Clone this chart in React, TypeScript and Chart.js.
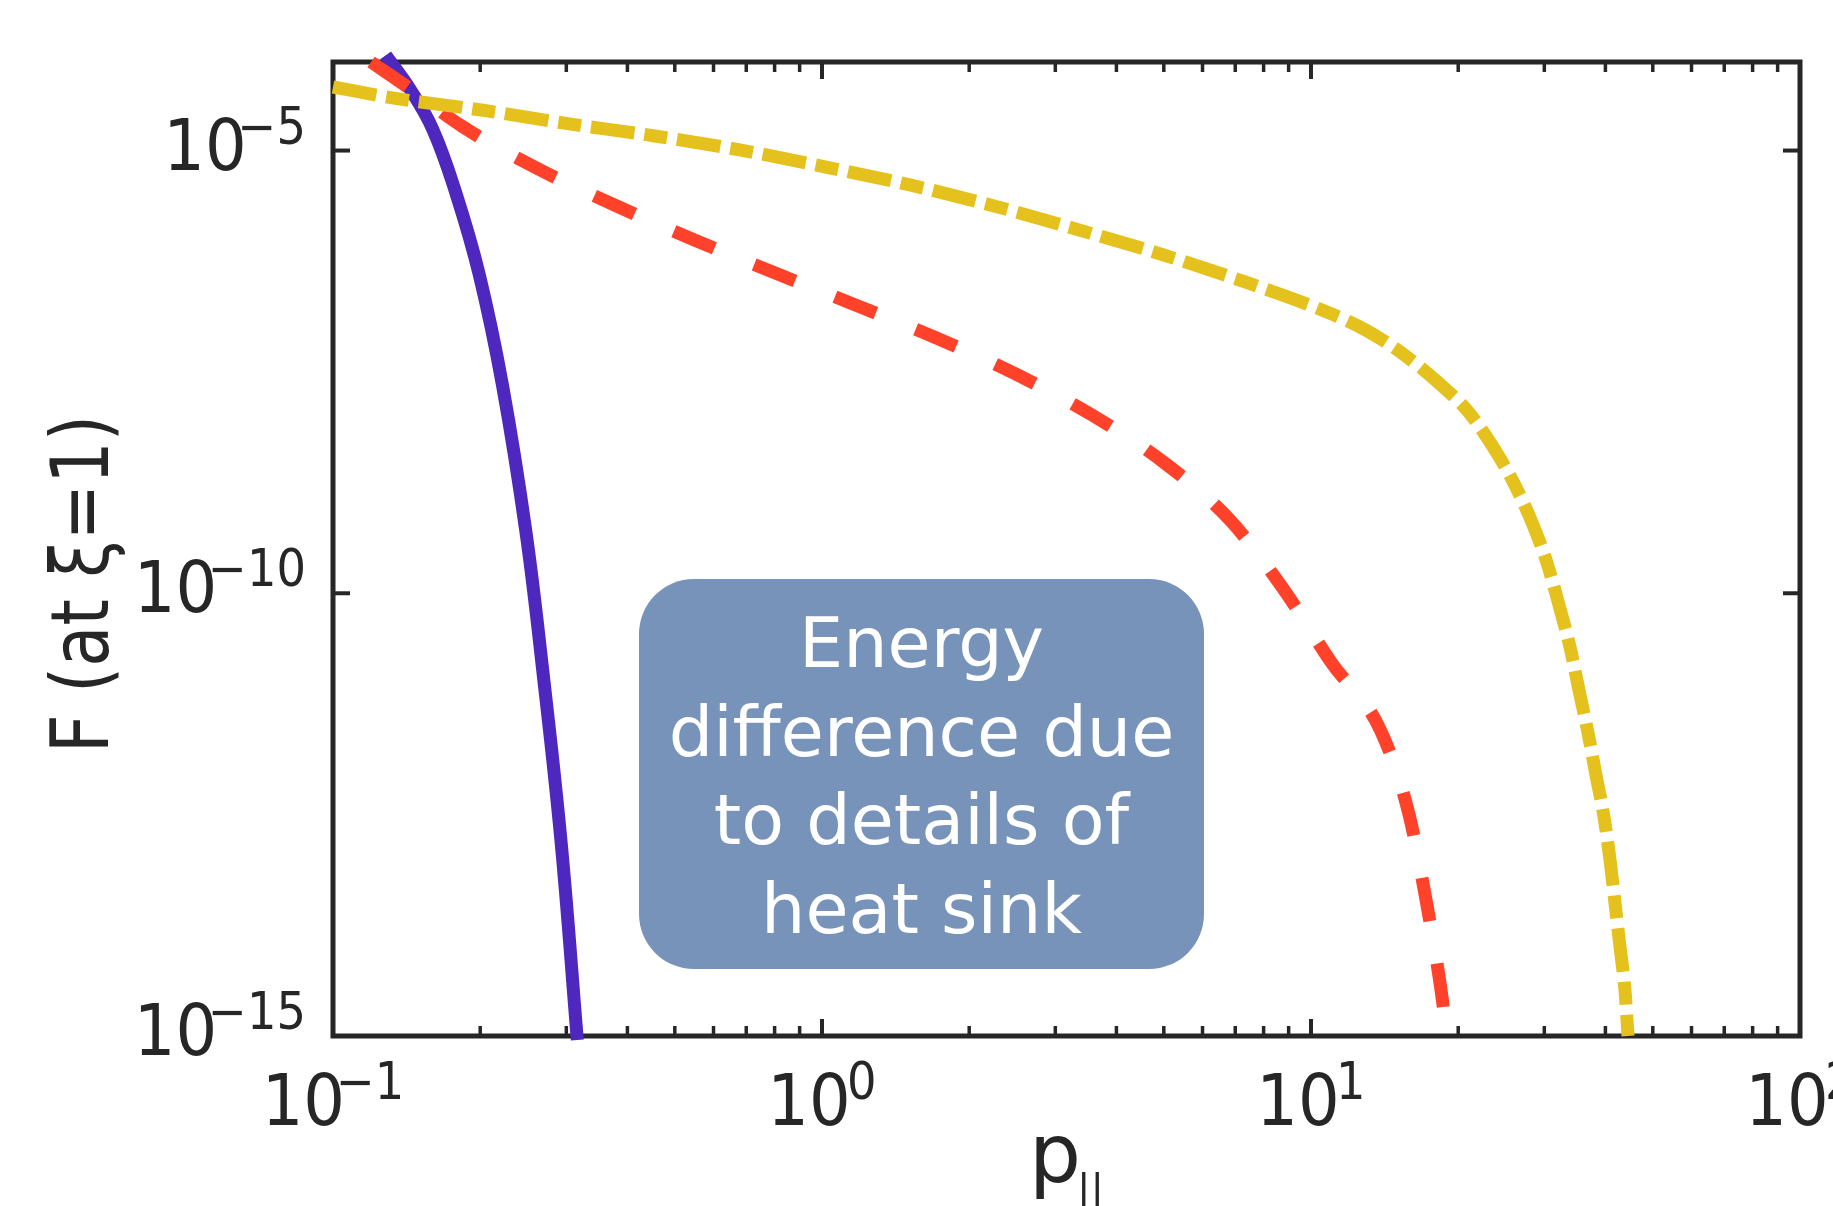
import React, { useEffect, useRef } from "react";
import { Chart, registerables } from "chart.js";

Chart.register(...registerables);

// Momentum p_|| (x) and distribution value F at ξ=1 (y) for three heat-sink models
const purpleP = [0.1282, 0.1432, 0.1598, 0.1784, 0.1992, 0.2223, 0.2481, 0.2696, 0.2927, 0.316];
const purpleF = [1.19e-4, 5.09e-5, 1.757e-5, 3.3e-6, 3.94e-7, 2.19e-8, 4.9e-10, 1.1e-11, 1.56e-13, 9e-16];

const redP = [0.1196, 0.1423, 0.1836, 0.2613, 0.3773, 0.55, 0.805, 1.174, 1.719, 2.493, 3.566, 5.029, 6.83, 8.76, 10.99, 13.9, 15.86, 17.19, 18.36, 18.97];
const redF = [1e-4, 5.18e-5, 1.88e-5, 6.3e-6, 2.41e-6, 9.7e-7, 4.11e-7, 1.79e-7, 7.6e-8, 2.98e-8, 1.03e-8, 2.94e-9, 6.7e-10, 1.14e-10, 1.67e-11, 2.77e-12, 3.2e-13, 3.43e-14, 3.96e-15, 1e-15];

const yellowP = [0.1, 0.1352, 0.2027, 0.2953, 0.4554, 0.683, 1.019, 1.521, 2.258, 3.37, 4.96, 7.33, 10.78, 12.96, 15.35, 18.36, 20.84, 23.45, 26.0, 28.3, 30.39, 32.16, 33.86, 35.32, 36.86, 38.27, 39.74, 40.88, 41.85, 42.85, 43.86, 44.49];
const yellowF = [5.22e-5, 3.86e-5, 2.85e-5, 2.05e-5, 1.46e-5, 1.01e-5, 6.5e-6, 4.06e-6, 2.35e-6, 1.26e-6, 6.7e-7, 3.28e-7, 1.5e-7, 9.35e-8, 5.14e-8, 2.3e-8, 1.17e-8, 4.7e-9, 1.75e-9, 6.35e-10, 2.19e-10, 7.3e-11, 2.47e-11, 8.05e-12, 2.64e-12, 8.8e-13, 2.97e-13, 9.7e-14, 3.17e-14, 1.01e-14, 3.3e-15, 1e-15];

// Axis ranges and decade tick exponents
const xRange = [0.1, 100];
const yRange = [1e-15, 1e-4];
const xTickExponents = [-1, 0, 1, 2];
const yTickExponents = [-5, -10, -15];

const xTitle = "p";
const xTitleSub = "||";
const yTitle = "F (at ξ=1)";
const noteLines = ["Energy", "difference due", "to details of", "heat sink"];

const INK = "#262626";
const FONT = '"DejaVu Sans", "Noto Sans", sans-serif';

const toPoints = (xs: number[], ys: number[]) => xs.map((x, i) => ({ x, y: ys[i] }));

function drawPower(
  ctx: CanvasRenderingContext2D,
  exp: number,
  anchorX: number,
  baseY: number,
  align: "right" | "center"
) {
  const sx = 0.91;
  const base = "10";
  const sup = exp < 0 ? "\u2212" + Math.abs(exp) : String(exp);
  ctx.font = `72px ${FONT}`;
  const wb = ctx.measureText(base).width;
  ctx.font = `51px ${FONT}`;
  const ws = ctx.measureText(sup).width;
  const supStart = exp < 0 ? wb - 10 : wb - 4;
  const total = (supStart + ws) * sx;
  const x0 = align === "right" ? anchorX - total : anchorX - total / 2;
  ctx.save();
  ctx.translate(x0, baseY);
  ctx.scale(sx, 1);
  ctx.fillStyle = INK;
  ctx.textAlign = "left";
  ctx.textBaseline = "alphabetic";
  ctx.font = `72px ${FONT}`;
  ctx.fillText(base, 0, 0);
  ctx.font = `51px ${FONT}`;
  ctx.fillText(sup, supStart, -26);
  ctx.restore();
}

const axesPlugin = {
  id: "axesFrame",
  beforeDatasetsDraw(chart: any) {
    const { ctx, chartArea, scales } = chart;
    const { left, right, top, bottom } = chartArea;
    const xs = scales.x;
    const ys = scales.y;
    ctx.save();
    ctx.strokeStyle = INK;
    ctx.lineWidth = 5;
    ctx.lineCap = "butt";
    ctx.strokeRect(left, top, right - left, bottom - top);

    // inward ticks on all four sides
    const tick = (x1: number, y1: number, x2: number, y2: number, w: number) => {
      ctx.lineWidth = w;
      ctx.beginPath();
      ctx.moveTo(x1, y1);
      ctx.lineTo(x2, y2);
      ctx.stroke();
    };
    for (let e = -1; e < 2; e++) {
      for (let m = 2; m <= 9; m++) {
        const px = xs.getPixelForValue(m * Math.pow(10, e));
        tick(px, bottom, px, bottom - 10, 3.5);
        tick(px, top, px, top + 10, 3.5);
      }
    }
    xTickExponents.forEach((e) => {
      const px = xs.getPixelForValue(Math.pow(10, e));
      tick(px, bottom, px, bottom - 17, 4);
      tick(px, top, px, top + 17, 4);
    });
    yTickExponents.forEach((e) => {
      const py = ys.getPixelForValue(Math.pow(10, e));
      tick(left, py, left + 17, py, 4);
      tick(right, py, right - 17, py, 4);
    });
    ctx.restore();
  },
  afterDatasetsDraw(chart: any) {
    const { ctx, chartArea, scales } = chart;
    const { left, right, bottom } = chartArea;
    const xs = scales.x;
    const ys = scales.y;

    // tick labels
    xTickExponents.forEach((e) => {
      drawPower(ctx, e, xs.getPixelForValue(Math.pow(10, e)), bottom + 89, "center");
    });
    yTickExponents.forEach((e) => {
      drawPower(ctx, e, 306, ys.getPixelForValue(Math.pow(10, e)) + 19, "right");
    });

    // axis titles
    ctx.save();
    ctx.fillStyle = INK;
    ctx.textBaseline = "alphabetic";
    ctx.textAlign = "left";
    ctx.font = `82px ${FONT}`;
    const pw = ctx.measureText(xTitle).width;
    ctx.font = `40px ${FONT}`;
    const sw = ctx.measureText(xTitleSub).width;
    const xc = (left + right) / 2;
    const startX = xc - (pw - 4 + sw) / 2;
    ctx.font = `82px ${FONT}`;
    ctx.fillText(xTitle, startX, bottom + 146);
    ctx.font = `40px ${FONT}`;
    ctx.fillText(xTitleSub, startX + pw - 4, bottom + 167);
    ctx.restore();

    ctx.save();
    ctx.fillStyle = INK;
    ctx.font = `81px ${FONT}`;
    ctx.textAlign = "center";
    ctx.textBaseline = "alphabetic";
    ctx.translate(108, 584);
    ctx.rotate(-Math.PI / 2);
    ctx.scale(0.83, 1);
    ctx.fillText(yTitle, 0, 0);
    ctx.restore();

    // annotation box
    ctx.save();
    const bx = 639, by = 579, bw = 1204 - 639, bh = 969 - 579;
    ctx.fillStyle = "#7793ba";
    ctx.beginPath();
    ctx.roundRect(bx, by, bw, bh, 55);
    ctx.fill();
    ctx.fillStyle = "#ffffff";
    ctx.font = `70px ${FONT}`;
    ctx.textAlign = "center";
    ctx.textBaseline = "alphabetic";
    noteLines.forEach((line, i) => {
      ctx.fillText(line, bx + bw / 2, 667 + i * 88.7);
    });
    ctx.restore();
  },
};

export default function App() {
  const canvasRef = useRef<HTMLCanvasElement | null>(null);

  useEffect(() => {
    document.body.style.margin = "0";
    document.body.style.overflow = "hidden";
    const canvas = canvasRef.current;
    if (!canvas) return;
    const chart = new Chart(canvas, {
      type: "line",
      data: {
        datasets: [
          {
            label: "yellow",
            data: toPoints(yellowP, yellowF),
            borderColor: "#e5c11d",
            borderWidth: 13,
            borderDash: [44, 10, 23, 10],
            borderCapStyle: "butt",
            cubicInterpolationMode: "monotone",
            pointRadius: 0,
            clip: false,
          },
          {
            label: "red",
            data: toPoints(redP, redF),
            borderColor: "#ff4229",
            borderWidth: 13,
            borderDash: [44, 43],
            borderCapStyle: "butt",
            cubicInterpolationMode: "monotone",
            pointRadius: 0,
            clip: false,
          },
          {
            label: "purple",
            data: toPoints(purpleP, purpleF),
            borderColor: "#4e27bf",
            borderWidth: 13,
            borderCapStyle: "butt",
            tension: 0.4,
            pointRadius: 0,
            clip: false,
          },
        ],
      },
      options: {
        animation: false,
        responsive: false,
        devicePixelRatio: 1,
        layout: { padding: { left: 333, right: 33, top: 62, bottom: 170 } },
        scales: {
          x: { type: "logarithmic", min: xRange[0], max: xRange[1], display: false },
          y: { type: "logarithmic", min: yRange[0], max: yRange[1], display: false },
        },
        plugins: { legend: { display: false }, tooltip: { enabled: false } },
      },
      plugins: [axesPlugin],
    } as any);
    return () => chart.destroy();
  }, []);

  return (
    <div style={{ position: "absolute", left: 0, top: 0, width: 1833, height: 1206, background: "#fff" }}>
      <canvas ref={canvasRef} width={1833} height={1206} style={{ display: "block" }} />
    </div>
  );
}
